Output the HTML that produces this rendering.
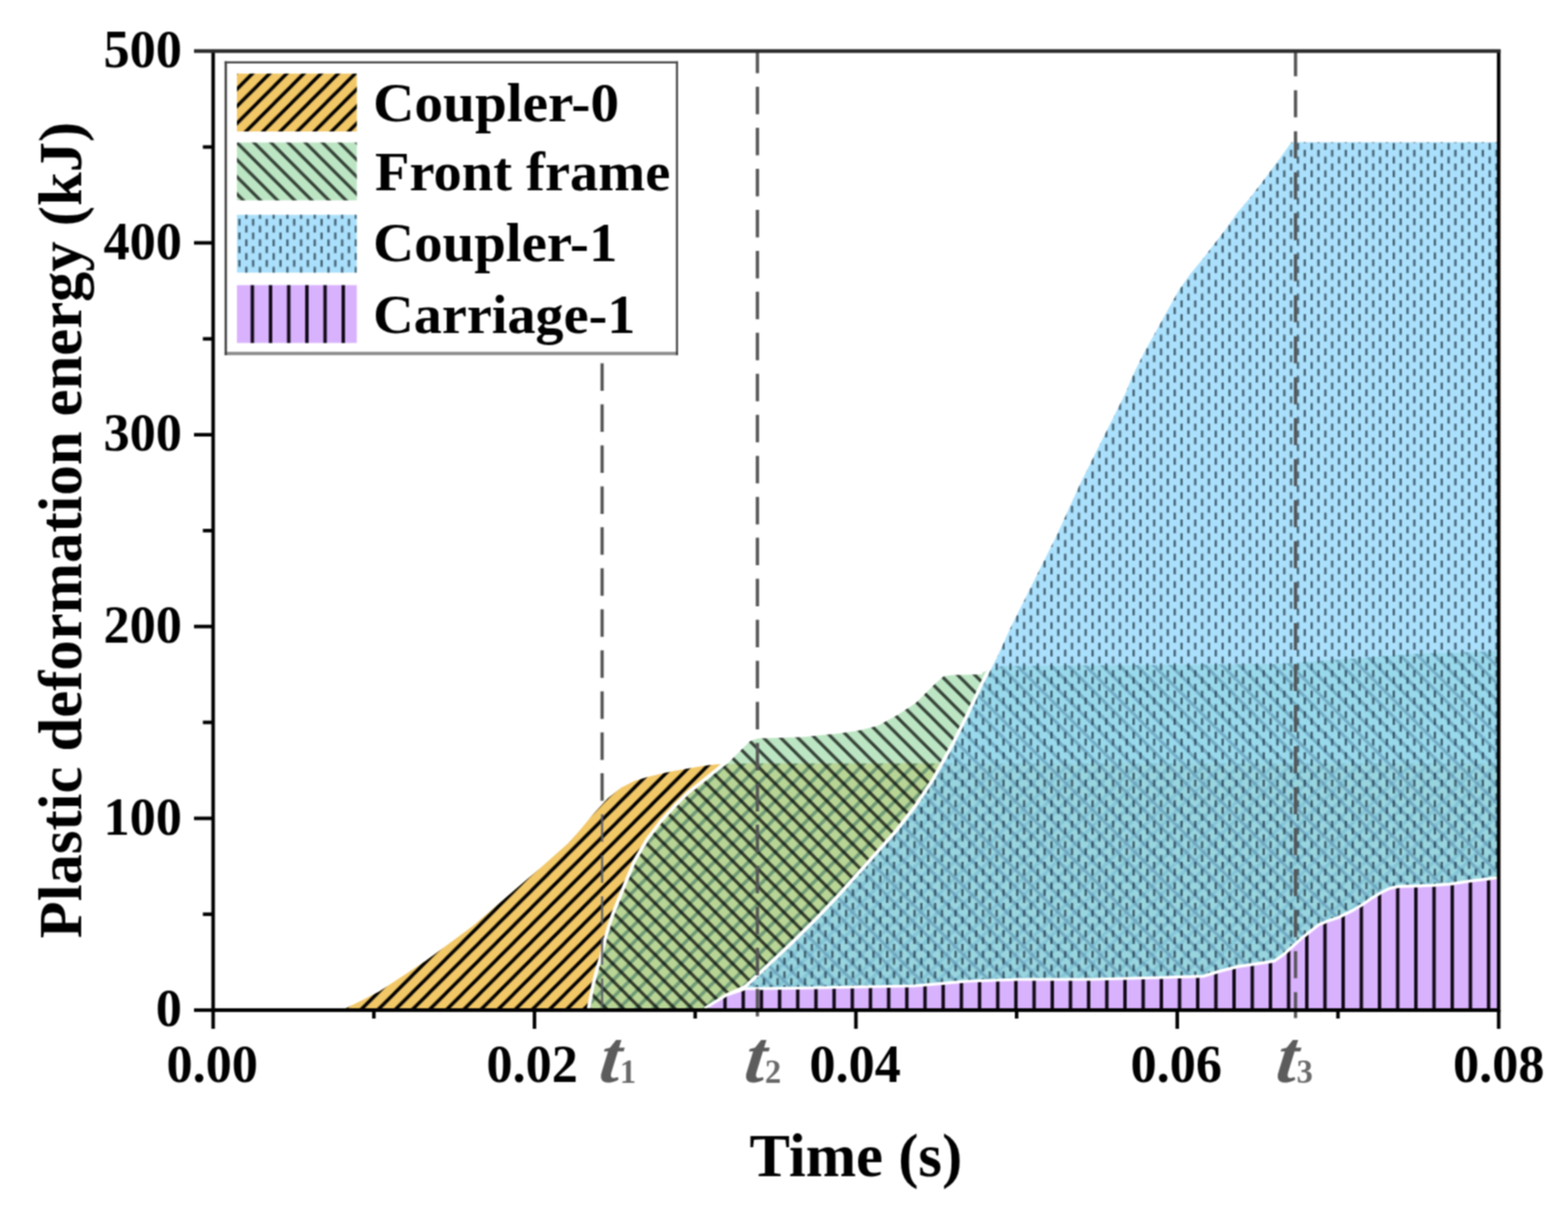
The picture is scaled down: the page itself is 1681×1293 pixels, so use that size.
<!DOCTYPE html>
<html lang="en"><head><meta charset="utf-8"><title>Plastic deformation energy vs time</title>
<style>
html,body{margin:0;padding:0;background:#fff;}
body{width:1681px;height:1293px;overflow:hidden;}
svg{display:block;}
text{font-family:"Liberation Serif",serif;font-weight:bold;fill:#000;}
.tick{font-size:56px;}
.leg{font-size:60px;}
.ttl{font-size:65px;}
.tt{font-style:italic;font-size:80px;fill:#5c5c5c;}
.ts{font-size:35px;fill:#6a6a6a;}
</style></head><body>
<svg width="1681" height="1293" viewBox="0 0 1681 1293" role="img" aria-label="Plastic deformation energy versus time">
<defs>
<pattern id="hO" patternUnits="userSpaceOnUse" width="18.36" height="18.36" patternTransform="translate(0.70,0.00)">
<path d="M0,18.36 L18.36,0 M-18.36,18.36 L18.36,-18.36 M0,36.72 L36.72,0" stroke="#000" stroke-width="3.6" fill="none"/>
</pattern>
<pattern id="hG" patternUnits="userSpaceOnUse" width="18.36" height="18.36" patternTransform="translate(9.30,0.00)">
<path d="M0,0 L18.36,18.36 M-18.36,0.00 L18.36,36.72 M0.00,-18.36 L36.72,18.36" stroke="#000" stroke-opacity="0.72" stroke-width="3.3" fill="none"/>
</pattern>
<pattern id="hB" patternUnits="userSpaceOnUse" width="14.68" height="14.68" patternTransform="translate(1204.33,689.13)">
<path d="M3.67,0.07 v7.20 M11.01,7.41 v7.20" stroke="#1e3442" stroke-opacity="0.76" stroke-width="2.4" fill="none"/>
</pattern>
<pattern id="hBl" patternUnits="userSpaceOnUse" width="14.68" height="14.68" patternTransform="translate(253.03,234.63)">
<path d="M3.67,0.07 v7.20 M11.01,7.41 v7.20" stroke="#1e3442" stroke-opacity="0.76" stroke-width="2.4" fill="none"/>
</pattern>
<pattern id="hP" patternUnits="userSpaceOnUse" width="19.49" height="20" patternTransform="translate(767.55,0)">
<path d="M9.74,-1 V21" stroke="#0b0510" stroke-width="3.6" fill="none"/>
</pattern>
<clipPath id="plot"><rect x="228.5" y="54.8" width="1378.2" height="1028.2"/></clipPath>
<filter id="soft" x="0" y="0" width="1681" height="1293" filterUnits="userSpaceOnUse" color-interpolation-filters="sRGB"><feConvolveMatrix order="3" kernelMatrix="1 2 1 2 4 2 1 2 1" divisor="16" edgeMode="duplicate" preserveAlpha="true"/></filter>
</defs>
<g filter="url(#soft)">
<rect width="1681" height="1293" fill="#fff"/>
<g clip-path="url(#plot)">
<path d="M370.8,1081.5 L370.8,1081.0 L391.0,1071.0 L406.6,1063.0 L456.6,1030.0 L506.6,993.0 L556.6,950.0 L580.0,930.0 L608.6,904.5 L620.0,892.0 L637.2,871.6 L651.6,855.9 L665.9,844.4 L680.2,837.2 L694.5,833.0 L708.8,829.4 L723.1,826.5 L737.4,824.0 L751.7,821.6 L767.5,819.4 L800.0,818.4 L1605.0,818.4 L1605.5,818.4 L1605.5,1081.5 Z" fill="rgb(242,199,102)"/>
<path d="M370.8,1081.5 L370.8,1081.0 L391.0,1071.0 L406.6,1063.0 L456.6,1030.0 L506.6,993.0 L556.6,950.0 L580.0,930.0 L608.6,904.5 L620.0,892.0 L637.2,871.6 L651.6,855.9 L665.9,844.4 L680.2,837.2 L694.5,833.0 L708.8,829.4 L723.1,826.5 L737.4,824.0 L751.7,821.6 L767.5,819.4 L800.0,818.4 L1605.0,818.4 L1605.5,818.4 L1605.5,1081.5 Z" fill="url(#hO)"/>
<path d="M631.0,1081.5 L631.0,1081.0 L636.0,1055.0 L640.2,1038.5 L644.4,1025.0 L648.6,1007.6 L652.8,992.5 L657.0,980.0 L663.0,965.0 L680.2,923.0 L694.5,898.8 L708.8,880.0 L723.0,864.4 L737.4,850.0 L751.7,838.7 L766.0,827.2 L780.3,815.8 L794.6,801.5 L803.2,792.9 L811.8,790.0 L860.0,788.5 L900.2,784.5 L920.3,781.4 L940.4,776.4 L960.5,765.4 L980.7,752.3 L1000.8,732.2 L1010.8,723.3 L1020.9,722.0 L1053.0,721.1 L1074.0,714.0 L1369.0,712.0 L1443.0,706.5 L1516.0,701.0 L1605.0,698.0 L1605.5,698.0 L1605.5,1081.5 Z" fill="rgb(159,219,169)" fill-opacity="0.7"/>
<path d="M631.0,1081.5 L631.0,1081.0 L636.0,1055.0 L640.2,1038.5 L644.4,1025.0 L648.6,1007.6 L652.8,992.5 L657.0,980.0 L663.0,965.0 L680.2,923.0 L694.5,898.8 L708.8,880.0 L723.0,864.4 L737.4,850.0 L751.7,838.7 L766.0,827.2 L780.3,815.8 L794.6,801.5 L803.2,792.9 L811.8,790.0 L860.0,788.5 L900.2,784.5 L920.3,781.4 L940.4,776.4 L960.5,765.4 L980.7,752.3 L1000.8,732.2 L1010.8,723.3 L1020.9,722.0 L1053.0,721.1 L1074.0,714.0 L1369.0,712.0 L1443.0,706.5 L1516.0,701.0 L1605.0,698.0 L1605.5,698.0 L1605.5,1081.5 Z" fill="url(#hG)"/>
<path d="M631.0,1081.0 L636.0,1055.0 L640.2,1038.5 L644.4,1025.0 L648.6,1007.6 L652.8,992.5 L657.0,980.0 L663.0,965.0 L680.2,923.0 L694.5,898.8 L708.8,880.0 L723.0,864.4 L737.4,850.0 L751.7,838.7 L766.0,827.2 L780.3,815.8 L794.6,801.5 L803.2,792.9 L811.8,790.0 L860.0,788.5 L900.2,784.5 L920.3,781.4 L940.4,776.4 L960.5,765.4 L980.7,752.3 L1000.8,732.2 L1010.8,723.3 L1020.9,722.0 L1053.0,721.1" fill="none" stroke="#fff" stroke-width="3.7" stroke-linejoin="round"/>
<path d="M757.0,1081.5 L757.0,1081.0 L778.7,1067.0 L798.8,1058.0 L820.0,1038.0 L848.3,1011.4 L875.0,985.0 L900.2,958.5 L920.3,936.0 L940.4,913.5 L960.5,891.0 L980.7,864.9 L1000.8,834.7 L1020.9,798.5 L1037.0,766.4 L1053.0,732.0 L1059.4,719.4 L1069.3,699.6 L1081.6,672.4 L1094.0,647.6 L1106.4,622.9 L1118.7,598.1 L1131.1,573.4 L1143.5,546.2 L1155.9,519.0 L1168.2,494.2 L1180.6,469.5 L1193.0,444.7 L1205.3,420.0 L1212.4,402.4 L1224.9,377.4 L1237.4,354.9 L1249.9,332.4 L1262.4,309.9 L1274.9,292.4 L1287.3,277.4 L1299.8,261.2 L1312.3,245.0 L1324.8,227.4 L1337.3,212.5 L1354.8,190.0 L1369.8,170.0 L1383.5,150.6 L1605.0,150.6 L1605.5,150.6 L1605.5,1081.5 Z" fill="rgb(140,212,251)" fill-opacity="0.73"/>
<path d="M757.0,1081.5 L757.0,1081.0 L778.7,1067.0 L798.8,1058.0 L820.0,1038.0 L848.3,1011.4 L875.0,985.0 L900.2,958.5 L920.3,936.0 L940.4,913.5 L960.5,891.0 L980.7,864.9 L1000.8,834.7 L1020.9,798.5 L1037.0,766.4 L1053.0,732.0 L1059.4,719.4 L1069.3,699.6 L1081.6,672.4 L1094.0,647.6 L1106.4,622.9 L1118.7,598.1 L1131.1,573.4 L1143.5,546.2 L1155.9,519.0 L1168.2,494.2 L1180.6,469.5 L1193.0,444.7 L1205.3,420.0 L1212.4,402.4 L1224.9,377.4 L1237.4,354.9 L1249.9,332.4 L1262.4,309.9 L1274.9,292.4 L1287.3,277.4 L1299.8,261.2 L1312.3,245.0 L1324.8,227.4 L1337.3,212.5 L1354.8,190.0 L1369.8,170.0 L1383.5,150.6 L1605.0,150.6 L1605.5,150.6 L1605.5,1081.5 Z" fill="url(#hB)"/>
<path d="M757.0,1081.0 L778.7,1067.0 L798.8,1058.0 L820.0,1038.0 L848.3,1011.4 L875.0,985.0 L900.2,958.5 L920.3,936.0 L940.4,913.5 L960.5,891.0 L980.7,864.9 L1000.8,834.7 L1020.9,798.5 L1037.0,766.4 L1053.0,732.0 L1059.4,719.4 L1069.3,699.6 L1081.6,672.4 L1094.0,647.6 L1106.4,622.9 L1118.7,598.1 L1131.1,573.4 L1143.5,546.2 L1155.9,519.0 L1168.2,494.2 L1180.6,469.5 L1193.0,444.7 L1205.3,420.0 L1212.4,402.4 L1224.9,377.4 L1237.4,354.9 L1249.9,332.4 L1262.4,309.9 L1274.9,292.4 L1287.3,277.4 L1299.8,261.2 L1312.3,245.0 L1324.8,227.4 L1337.3,212.5 L1354.8,190.0 L1369.8,170.0 L1383.5,150.6 L1605.0,150.6" fill="none" stroke="#fff" stroke-width="3.7" stroke-linejoin="round"/>
<path d="M755.5,1081.5 L755.5,1081.0 L778.7,1067.0 L798.8,1060.0 L850.0,1059.5 L900.0,1058.5 L980.0,1057.0 L1037.0,1052.0 L1094.0,1050.0 L1170.0,1050.0 L1246.5,1048.0 L1290.0,1046.6 L1309.0,1040.9 L1328.0,1036.1 L1347.0,1033.3 L1366.0,1030.4 L1375.7,1023.7 L1385.2,1015.2 L1394.7,1006.6 L1404.2,999.0 L1413.7,991.4 L1423.3,987.6 L1434.7,983.8 L1442.3,980.0 L1451.8,975.2 L1461.3,969.5 L1470.8,962.8 L1480.4,957.1 L1489.9,952.4 L1499.4,950.4 L1518.4,949.9 L1537.5,949.1 L1556.5,947.6 L1575.6,944.7 L1594.6,942.3 L1605.0,940.9 L1605.5,940.9 L1605.5,1081.5 Z" fill="rgb(217,178,253)"/>
<path d="M755.5,1081.5 L755.5,1081.0 L778.7,1067.0 L798.8,1060.0 L850.0,1059.5 L900.0,1058.5 L980.0,1057.0 L1037.0,1052.0 L1094.0,1050.0 L1170.0,1050.0 L1246.5,1048.0 L1290.0,1046.6 L1309.0,1040.9 L1328.0,1036.1 L1347.0,1033.3 L1366.0,1030.4 L1375.7,1023.7 L1385.2,1015.2 L1394.7,1006.6 L1404.2,999.0 L1413.7,991.4 L1423.3,987.6 L1434.7,983.8 L1442.3,980.0 L1451.8,975.2 L1461.3,969.5 L1470.8,962.8 L1480.4,957.1 L1489.9,952.4 L1499.4,950.4 L1518.4,949.9 L1537.5,949.1 L1556.5,947.6 L1575.6,944.7 L1594.6,942.3 L1605.0,940.9 L1605.5,940.9 L1605.5,1081.5 Z" fill="url(#hP)"/>
<path d="M755.5,1081.0 L778.7,1067.0 L798.8,1060.0 L850.0,1059.5 L900.0,1058.5 L980.0,1057.0 L1037.0,1052.0 L1094.0,1050.0 L1170.0,1050.0 L1246.5,1048.0 L1290.0,1046.6 L1309.0,1040.9 L1328.0,1036.1 L1347.0,1033.3 L1366.0,1030.4 L1375.7,1023.7 L1385.2,1015.2 L1394.7,1006.6 L1404.2,999.0 L1413.7,991.4 L1423.3,987.6 L1434.7,983.8 L1442.3,980.0 L1451.8,975.2 L1461.3,969.5 L1470.8,962.8 L1480.4,957.1 L1489.9,952.4 L1499.4,950.4 L1518.4,949.9 L1537.5,949.1 L1556.5,947.6 L1575.6,944.7 L1594.6,942.3 L1605.0,940.9" fill="none" stroke="#fff" stroke-width="3.2" stroke-linejoin="round"/>
</g>
<path d="M645.5,389.5 V873.0" stroke="#555" stroke-width="3.5" stroke-dasharray="29.50 14.46" stroke-dashoffset="0.00" fill="none"/>
<path d="M645.5,873.0 V1081.0" stroke="#5a5d66" stroke-width="2.2" stroke-dasharray="29.50 14.46" stroke-dashoffset="43.90" fill="none"/>
<path d="M812.0,49.1 V1091.5" stroke="#555" stroke-width="3.5" stroke-dasharray="29.50 14.46" stroke-dashoffset="0.00" fill="none"/>
<path d="M1388.9,52.8 V1091.5" stroke="#555" stroke-width="3.5" stroke-dasharray="29.00 14.95" stroke-dashoffset="0.00" fill="none"/>
<rect x="600" y="40" width="900" height="13.1" fill="#fff"/>
<g stroke="#000" stroke-width="3.8" fill="none" stroke-linecap="butt">
<path d="M228.5,52.9 V1083.0 H1606.7 V52.9" stroke-linejoin="miter"/>
<path d="M208.0,54.8 H1608.6" stroke="#2b2b2b" stroke-width="4.0"/>
<path d="M208.0,1083.0 H228.5"/>
<path d="M217.5,980.2 H228.5"/>
<path d="M208.0,877.4 H228.5"/>
<path d="M217.5,774.5 H228.5"/>
<path d="M208.0,671.7 H228.5"/>
<path d="M217.5,568.9 H228.5"/>
<path d="M208.0,466.1 H228.5"/>
<path d="M217.5,363.3 H228.5"/>
<path d="M208.0,260.4 H228.5"/>
<path d="M217.5,157.6 H228.5"/>
<path d="M228.5,1083.0 V1103.0"/>
<path d="M400.8,1083.0 V1092.0"/>
<path d="M573.0,1083.0 V1103.0"/>
<path d="M745.3,1083.0 V1092.0"/>
<path d="M917.6,1083.0 V1103.0"/>
<path d="M1089.9,1083.0 V1092.0"/>
<path d="M1262.1,1083.0 V1103.0"/>
<path d="M1434.4,1083.0 V1092.0"/>
<path d="M1606.7,1083.0 V1103.0"/>
</g>
<text class="tick" x="195.0" y="1100.2" text-anchor="end">0</text>
<text class="tick" x="195.0" y="894.6" text-anchor="end">100</text>
<text class="tick" x="195.0" y="688.9" text-anchor="end">200</text>
<text class="tick" x="195.0" y="483.3" text-anchor="end">300</text>
<text class="tick" x="195.0" y="277.6" text-anchor="end">400</text>
<text class="tick" x="195.0" y="72.0" text-anchor="end">500</text>
<text class="tick" x="227.6" y="1160.0" text-anchor="middle">0.00</text>
<text class="tick" x="570.6" y="1160.0" text-anchor="middle">0.02</text>
<text class="tick" x="916.8" y="1160.0" text-anchor="middle">0.04</text>
<text class="tick" x="1261.1" y="1160.0" text-anchor="middle">0.06</text>
<text class="tick" x="1606.7" y="1160.0" text-anchor="middle">0.08</text>
<text class="tt" transform="translate(640.8,1160.2) skewX(-7.5)" x="0" y="0">t</text>
<text class="ts" x="664.5" y="1160.8">1</text>
<text class="tt" transform="translate(796.2,1160.2) skewX(-7.5)" x="0" y="0">t</text>
<text class="ts" x="819.9" y="1160.8">2</text>
<text class="tt" transform="translate(1366.2,1160.2) skewX(-7.5)" x="0" y="0">t</text>
<text class="ts" x="1389.9" y="1160.8">3</text>
<text class="ttl" x="917.5" y="1261" text-anchor="middle">Time (s)</text>
<text class="ttl" transform="translate(86.8,568.3) rotate(-90)" text-anchor="middle">Plastic deformation energy (kJ)</text>
<rect x="240.8" y="65.7" width="486.0" height="315.1" fill="#fff"/>
<path d="M240.8,379.0 H726.8" stroke="#8a8a8a" stroke-width="3.6" fill="none"/>
<path d="M725.75,65.7 V380.8" stroke="#3a3a3a" stroke-width="2.1" fill="none"/>
<path d="M240.8,66.9 H726.8" stroke="#484848" stroke-width="2.4" fill="none"/>
<path d="M242.05,65.7 V380.8" stroke="#404040" stroke-width="2.5" fill="none"/>
<rect x="254" y="78.9" width="128.5" height="62" fill="rgb(242,199,102)"/>
<rect x="254" y="78.9" width="128.5" height="62" fill="url(#hO)"/>
<text class="leg" x="399.9" y="129.7" textLength="263.9" lengthAdjust="spacingAndGlyphs">Coupler-0</text>
<rect x="254" y="152.8" width="128.5" height="62" fill="rgb(159,219,169)" fill-opacity="0.7"/>
<rect x="254" y="152.8" width="128.5" height="62" fill="url(#hG)"/>
<text class="leg" x="402.0" y="204.2" textLength="316.6" lengthAdjust="spacingAndGlyphs">Front frame</text>
<rect x="254" y="230.3" width="128.5" height="62" fill="rgb(140,212,251)" fill-opacity="0.73"/>
<rect x="254" y="230.3" width="128.5" height="62" fill="url(#hBl)"/>
<text class="leg" x="400.0" y="280.3" textLength="261.9" lengthAdjust="spacingAndGlyphs">Coupler-1</text>
<rect x="254" y="305.7" width="128.5" height="62" fill="rgb(217,178,253)"/>
<rect x="254" y="305.7" width="128.5" height="62" fill="url(#hP)"/>
<text class="leg" x="400.0" y="356.7" textLength="281.2" lengthAdjust="spacingAndGlyphs">Carriage-1</text>
</g>
</svg>
</body></html>
